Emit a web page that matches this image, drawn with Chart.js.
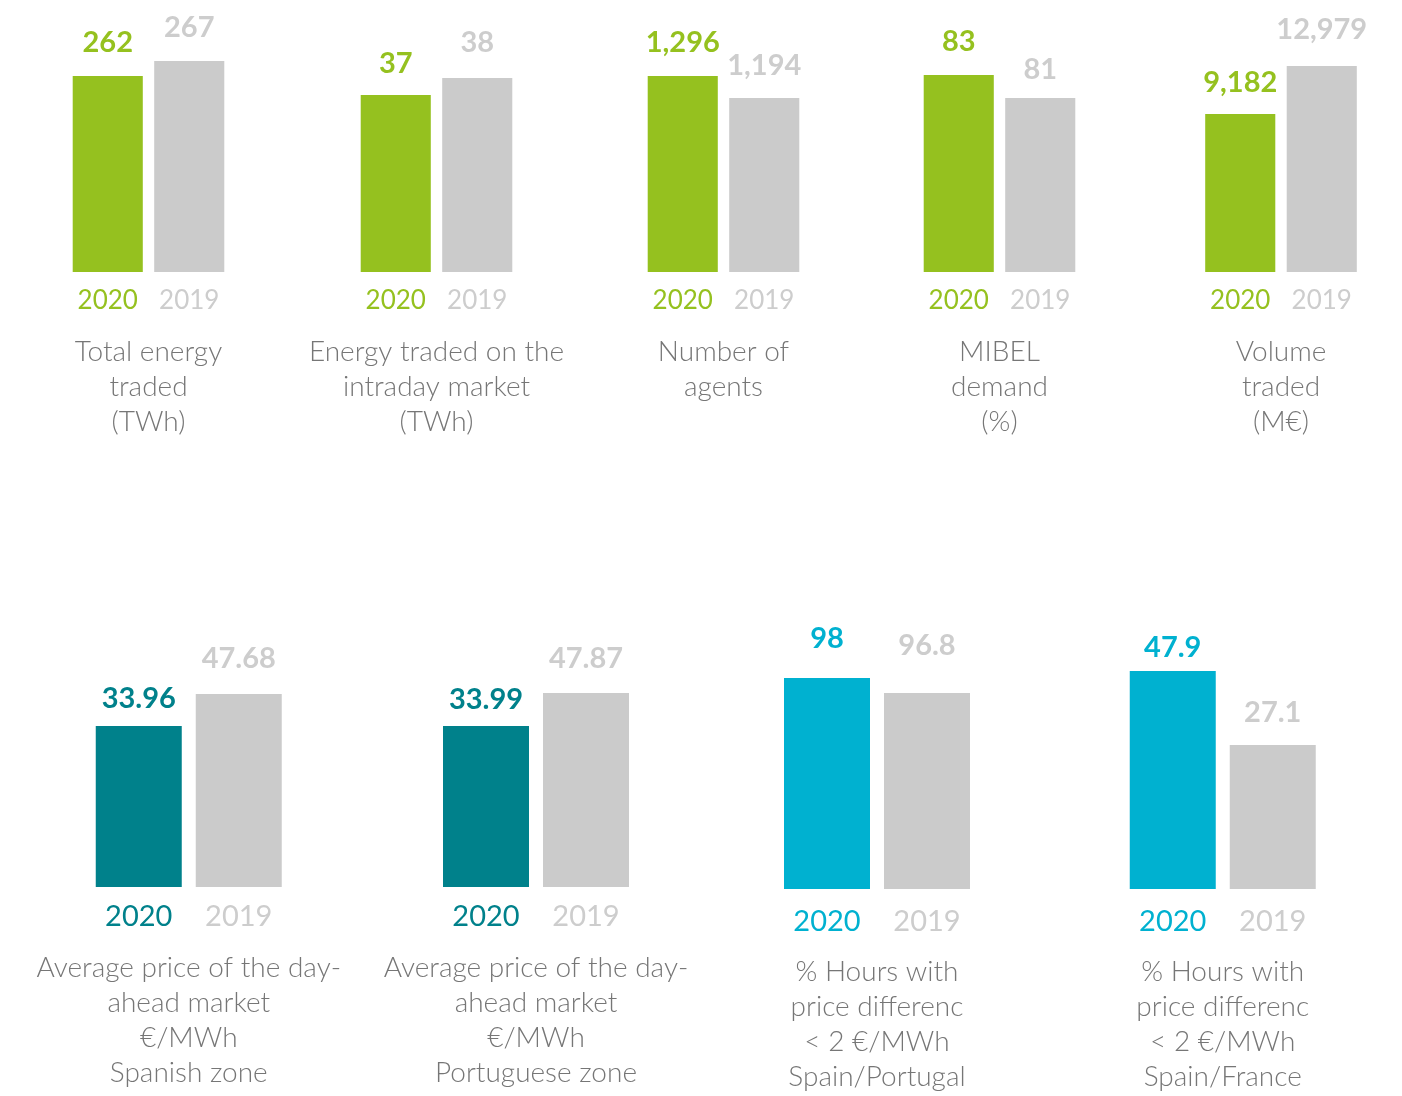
<!DOCTYPE html>
<html><head><meta charset="utf-8">
<script src="https://cdn.jsdelivr.net/npm/chart.js@4.4.1/dist/chart.umd.min.js"></script>
<style>
html,body{margin:0;padding:0;background:#fff;width:1402px;height:1096px;overflow:hidden;position:relative}
canvas{position:absolute;left:0}
</style></head><body>
<script>
// ---------- data ----------
const years = ['2020', '2019'];
const titles = [
  ['Total energy', 'traded', '(TWh)'],
  ['Energy traded on the', 'intraday market', '(TWh)'],
  ['Number of', 'agents'],
  ['MIBEL', 'demand', '(%)'],
  ['Volume', 'traded', '(M€)'],
  ['Average price of the day-', 'ahead market', '€/MWh', 'Spanish zone'],
  ['Average price of the day-', 'ahead market', '€/MWh', 'Portuguese zone'],
  ['% Hours with', 'price differenc', '< 2 €/MWh', 'Spain/Portugal'],
  ['% Hours with', 'price differenc', '< 2 €/MWh', 'Spain/France']
];
const values2020 = [262, 37, 1296, 83, 9182, 33.96, 33.99, 98, 47.9];
const values2019 = [267, 38, 1194, 81, 12979, 47.68, 47.87, 96.8, 27.1];
// value-axis ranges per panel (each panel has its own truncated scale)
const axisMin = [196.67, 26.59, 387.3, 65.87, -3316, -35.07, -33.73, 81.12, -13.38];
const axisMax = [287.33, 42.59, 1648.4, 89.52, 18200, 87.98, 86.98, 104.24, 67.85];

// ---------- style / layout ----------
const GREEN = '#95c11f', TEAL = '#00818b', CYAN = '#00b1d0';
const GRAY_BAR = '#cbcbcb', GRAY_TXT = '#cdcdcd', TITLE_C = '#767676';
const panelColor = [GREEN, GREEN, GREEN, GREEN, GREEN, TEAL, TEAL, CYAN, CYAN];
const panelCenter = [148.5, 436.5, 723.5, 999.5, 1281, 188.75, 536, 877, 1222.75];
const panelRow = [0, 0, 0, 0, 0, 1, 1, 1, 1];
const rowTop = [0, 600];
const rowHeight = [440, 496];
const rowAreaWidth = [163, 200];
const panelAxisH = [168, 168, 168, 168, 168, 209, 209, 207, 207];
const labelGap = [[24, 24], [22, 26], [24, 23], [24, 19], [22, 27], [18, 26], [17, 25], [30, 38], [14, 23]];
const rowYearSize = [26, 29];
const panelTickPad = [13, 13, 13, 13, 13, 12, 12, 15, 15];
const panelTitleOffset = [80, 80, 80, 80, 80, 81, 81, 83, 83];
const TITLE_SIZE = 28, TITLE_LH = 35, VALUE_SIZE = 29;

const fmt = v => v.toLocaleString('en-US', {maximumFractionDigits: 2});

const textPlugin = {
  id: 'panelText',
  afterDatasetsDraw(chart, args, opts) {
    const ctx = chart.ctx;
    const meta = chart.getDatasetMeta(0);
    const data = chart.data.datasets[0].data;
    ctx.save();
    ctx.textAlign = 'center';
    ctx.textBaseline = 'alphabetic';
    ctx.font = `bold ${VALUE_SIZE}px Lato`;
    meta.data.forEach((bar, j) => {
      ctx.fillStyle = opts.valueColors[j];
      ctx.fillText(fmt(data[j]), bar.x, bar.y - opts.gaps[j]);
    });
    ctx.font = `300 ${TITLE_SIZE}px Lato`;
    ctx.fillStyle = TITLE_C;
    ctx.textBaseline = 'middle';
    const ca = chart.chartArea;
    const cx = (ca.left + ca.right) / 2;
    opts.title.forEach((line, k) => {
      ctx.fillText(line, cx, ca.bottom + opts.titleOffset + k * TITLE_LH);
    });
    ctx.restore();
  }
};

function build() {
  for (let i = 0; i < values2020.length; i++) {
    const r = panelRow[i];
    const cv = document.createElement('canvas');
    cv.width = 1402; cv.height = rowHeight[r];
    cv.style.top = rowTop[r] + 'px';
    cv.style.width = '1402px'; cv.style.height = rowHeight[r] + 'px';
    document.body.appendChild(cv);
    const half = rowAreaWidth[r] / 2;
    const colors = [panelColor[i], GRAY_TXT];
    new Chart(cv, {
      type: 'bar',
      data: {
        labels: years,
        datasets: [{
          data: [values2020[i], values2019[i]],
          backgroundColor: [panelColor[i], GRAY_BAR],
          base: axisMin[i],
          barPercentage: 0.86,
          categoryPercentage: 1
        }]
      },
      options: {
        responsive: false,
        animation: false,
        devicePixelRatio: 1,
        layout: {padding: {left: panelCenter[i] - half, right: 1402 - panelCenter[i] - half, top: 0, bottom: 0}},
        plugins: {
          legend: {display: false},
          tooltip: {enabled: false},
          panelText: {valueColors: colors, gaps: labelGap[i], title: titles[i], titleOffset: panelTitleOffset[i]}
        },
        scales: {
          x: {
            grid: {display: false, drawTicks: false},
            border: {display: false},
            ticks: {
              color: c => colors[c.index],
              font: {family: 'Lato', size: rowYearSize[r]},
              padding: panelTickPad[i],
              maxRotation: 0, autoSkip: false
            },
            afterFit: s => { s.height = panelAxisH[i]; }
          },
          y: {display: false, min: axisMin[i], max: axisMax[i]}
        }
      },
      plugins: [textPlugin]
    });
  }
}
Promise.all([
  document.fonts.load('300 28px Lato'),
  document.fonts.load('bold 29px Lato'),
  document.fonts.load('26px Lato')
]).catch(() => {}).then(build);
</script>
</body></html>
